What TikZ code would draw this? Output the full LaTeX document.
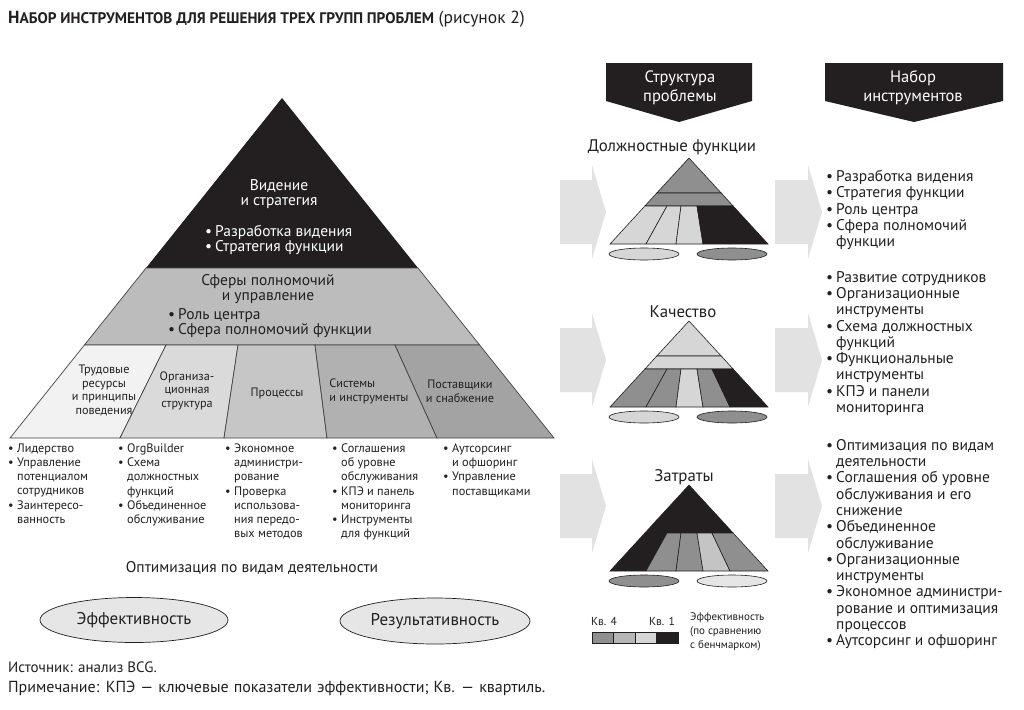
\documentclass[tikz,border=0pt]{standalone}
\usepackage{fontspec}
\setmainfont{PT Sans}
\usetikzlibrary{shapes.geometric}
\definecolor{ink}{HTML}{231F20}
\definecolor{arr}{HTML}{E2E2E2}
\definecolor{sA}{HTML}{F2F2F2}
\definecolor{sB}{HTML}{DADADA}
\definecolor{sC}{HTML}{C6C6C6}
\definecolor{sD}{HTML}{B1B1B1}
\definecolor{sE}{HTML}{A3A3A3}
\definecolor{band}{HTML}{BCBCBC}
\definecolor{gM}{HTML}{8F8F8F}
\definecolor{gL}{HTML}{D6D6D6}
\definecolor{gK}{HTML}{C4C4C4}
\definecolor{gB}{HTML}{B5B5B5}
\definecolor{gE}{HTML}{E6E6E6}
\definecolor{ellfill}{HTML}{E6E6E6}
\newcommand{\bl}{\makebox[9pt][l]{•}}
\newcommand{\ind}{\hspace*{9pt}}
\newcommand{\blr}{\makebox[10pt][l]{•}}
\newcommand{\indr}{\hspace*{10pt}}
\newcommand{\mypyr}[9]{%
\begin{scope}[shift={(#1,#2)},every path/.style={draw=ink,line width=0.6pt}]
 \filldraw[fill=#3] (0,0) -- (-32.2,35) -- (32.2,35) -- cycle;
 \filldraw[fill=#4] (-32.2,35) -- (32.2,35) -- (44.1,48) -- (-44.1,48) -- cycle;
 \filldraw[fill=#5] (-44.1,48) -- (-22,48) -- (-43,86) -- (-79,86) -- cycle;
 \filldraw[fill=#6] (-22,48) -- (-8,48) -- (-13,86) -- (-43,86) -- cycle;
 \filldraw[fill=#7] (-8,48) -- (8,48) -- (14,86) -- (-13,86) -- cycle;
 \filldraw[fill=#8] (8,48) -- (23,48) -- (41,86) -- (14,86) -- cycle;
 \filldraw[fill=#9] (23,48) -- (44.1,48) -- (79,86) -- (41,86) -- cycle;
\end{scope}}
\newcommand{\myells}[4]{%
 \filldraw[fill=#3,draw=ink,line width=0.6pt] (#1-45,#2) ellipse [x radius=35,y radius=6];
 \filldraw[fill=#4,draw=ink,line width=0.6pt] (#1+43,#2) ellipse [x radius=35,y radius=6];}
\newcommand{\myarrow}[3]{% x0, x1 (head start), cy ; tip = x1+14
 \fill[arr] (#1,#3-32) -- (#2,#3-32) -- (#2,#3-47) -- (#2+14,#3) -- (#2,#3+47) -- (#2,#3+32) -- (#1,#3+32) -- cycle;}
\tikzset{
 txt/.style={inner sep=0pt,text=ink},
 body/.style={txt,font=\fontsize{15.5}{16.3}\selectfont,align=left},
 pbody/.style={txt,font=\fontsize{15.5}{15.2}\selectfont,align=left},
 small/.style={txt,font=\fontsize{12.3}{14.2}\selectfont,align=left},
 seg/.style={txt,font=\fontsize{12.2}{13.5}\selectfont,align=center},
 pyrline/.style={draw=ink!85,line width=0.7pt},
 bigell/.style={ellipse,draw=ink,line width=0.7pt,fill=ellfill,minimum width=188pt,minimum height=45pt,inner sep=0pt,text=ink,font=\fontsize{17}{18}\selectfont},
 banner/.style={fill=ink},
 ptitle/.style={txt,font=\fontsize{16.8}{18}\selectfont}
}
\begin{document}
\begin{tikzpicture}[x=1pt,y=-1pt]
\useasboundingbox (0,0) rectangle (1024,709);
\fill[white] (0,0) rectangle (1024,709);
% title
\node[txt,anchor=west] (title) at (8,19) {{\bfseries\fontsize{17.5}{18}\selectfont Н\fontsize{15.3}{16}\selectfont АБОР ИНСТРУМЕНТОВ ДЛЯ РЕШЕНИЯ ТРЕХ ГРУПП ПРОБЛЕМ}\fontsize{17.5}{18}\selectfont\ (рисунок 2)};
% big pyramid
\fill[ink] (282,98) -- (146,268) -- (418,268) -- cycle;
\filldraw[pyrline,fill=band] (146,268) -- (418,268) -- (479.6,345) -- (84.4,345) -- cycle;
\filldraw[pyrline,fill=sA] (84.4,345) -- (166,345) -- (120,438) -- (10,438) -- cycle;
\filldraw[pyrline,fill=sB] (166,345) -- (238,345) -- (224,438) -- (120,438) -- cycle;
\filldraw[pyrline,fill=sC] (238,345) -- (315,345) -- (327,438) -- (224,438) -- cycle;
\filldraw[pyrline,fill=sD] (315,345) -- (395,345) -- (437,438) -- (327,438) -- cycle;
\filldraw[pyrline,fill=sE] (395,345) -- (479.6,345) -- (554,438) -- (437,438) -- cycle;
\node[pbody,text=white,align=center,anchor=north] (vis) at (279,179) {Видение\\и стратегия};
\node[pbody,text=white,anchor=north west] (visl) at (205,225) {\blr Разработка видения\\\blr Стратегия функции};
\node[pbody,align=center,anchor=north] (sph) at (268,274) {Сферы полномочий\\и управление};
\node[pbody,anchor=north west] (sphl) at (168,308) {\blr Роль центра\\\blr Сфера полномочий функции};
\node[seg] (s1) at (104,390.5) {Трудовые\\ресурсы\\и принципы\\поведения};
\node[seg] (s2) at (187,390.5) {Организа-\\ционная\\структура};
\node[seg] (s3) at (277,393) {Процессы};
\node[seg,align=left] (s4) at (369,391.5) {Системы\\и инструменты};
\node[seg] (s5) at (460,391.5) {Поставщики\\и снабжение};
% lists under pyramid
\node[small,anchor=north west] (l1) at (8,443.5) {\bl Лидерство\\\bl Управление\\\ind потенциалом\\\ind сотрудников\\\bl Заинтересо-\\\ind ванность};
\node[small,anchor=north west] (l2) at (118,443.5) {\bl OrgBuilder\\\bl Схема\\\ind должностных\\\ind функций\\\bl Объединенное\\\ind обслуживание};
\node[small,anchor=north west] (l3) at (225,443.5) {\bl Экономное\\\ind администри-\\\ind рование\\\bl Проверка\\\ind использова-\\\ind ния передо-\\\ind вых методов};
\node[small,anchor=north west] (l4) at (332,443.5) {\bl Соглашения\\\ind об уровне\\\ind обслуживания\\\bl КПЭ и панель\\\ind мониторинга\\\bl Инструменты\\\ind для функций};
\node[small,anchor=north west] (l5) at (443,443.5) {\bl Аутсорсинг\\\ind и офшоринг\\\bl Управление\\\ind поставщиками};
\node[txt,font=\fontsize{15.5}{17}\selectfont] (opt) at (252,568) {Оптимизация по видам деятельности};
\node[bigell] (eff) at (134,620) {Эффективность};
\node[bigell,minimum width=190pt,minimum height=46pt] (res) at (435,621) {Результативность};
\node[txt,anchor=west,font=\fontsize{15}{17}\selectfont] (src) at (8,667) {Источник: анализ BCG.};
\node[txt,anchor=west,font=\fontsize{16}{17}\selectfont] (note) at (8,688) {\spaceskip=5pt plus 1pt Примечание: КПЭ — ключевые показатели эффективности; Кв. — квартиль.};
% banners
\fill[banner] (606,63) -- (752,63) -- (752,101) -- (679,122) -- (606,101) -- cycle;
\fill[banner] (825,63) -- (1003,63) -- (1003,101) -- (914,122) -- (825,101) -- cycle;
\node[txt,text=white,align=center,font=\fontsize{16.5}{19}\selectfont] (b1) at (680,88) {Структура\\проблемы};
\node[txt,text=white,align=center,font=\fontsize{16.5}{19}\selectfont] (b2) at (913,88) {Набор\\инструментов};
% arrows
\myarrow{560}{592}{212}
\myarrow{560}{592}{360}
\myarrow{560}{592}{506}
\myarrow{775}{808}{212}
\myarrow{775}{808}{360}
\myarrow{775}{808}{506}
% small pyramids
\node[ptitle] (p1t) at (672,147) {Должностные функции};
\mypyr{689}{158}{gM}{gM}{gL}{gL}{gL}{ink}{ink}
\myells{689}{254}{gL}{gM}
\node[ptitle] (p2t) at (683,312) {Качество};
\mypyr{689}{321}{gL}{gL}{gM}{gM}{gL}{gM}{ink}
\myells{689}{417}{gL}{gM}
\node[ptitle] (p3t) at (684,477) {Затраты};
\mypyr{689}{485}{ink}{ink}{ink}{gM}{gM}{gK}{gM}
\myells{689}{581}{gM}{gE}
% legend
\node[txt,font=\fontsize{11.5}{13}\selectfont] (k4) at (604,621) {Кв. 4};
\node[txt,font=\fontsize{11.5}{13}\selectfont] (k1) at (662,621) {Кв. 1};
\begin{scope}[draw=ink,line width=0.6pt]
\filldraw[fill=gM] (592,632) rectangle (613.5,643);
\filldraw[fill=gB] (613.5,632) rectangle (635,643);
\filldraw[fill=gL] (635,632) rectangle (656.5,643);
\filldraw[fill=ink] (656.5,632) rectangle (678,643);
\end{scope}
\node[txt,anchor=north west,align=left,font=\fontsize{11}{14}\selectfont] (leg) at (690,612) {Эффективность\\(по сравнению\\с бенчмарком)};
% right lists
\node[body,anchor=north west] (r1) at (826,170) {\blr Разработка видения\\\blr Стратегия функции\\\blr Роль центра\\\blr Сфера полномочий\\\indr функции};
\node[body,anchor=north west] (r2) at (826,271) {\blr Развитие сотрудников\\\blr Организационные\\\indr инструменты\\\blr Схема должностных\\\indr функций\\\blr Функциональные\\\indr инструменты\\\blr КПЭ и панели\\\indr мониторинга};
\node[body,anchor=north west] (r3) at (826,439) {\blr Оптимизация по видам\\\indr деятельности\\\blr Соглашения об уровне\\\indr обслуживания и его\\\indr снижение\\\blr Объединенное\\\indr обслуживание\\\blr Организационные\\\indr инструменты\\\blr Экономное администри-\\\indr рование и оптимизация\\\indr процессов\\\blr Аутсорсинг и офшоринг};
\end{tikzpicture}
\end{document}
